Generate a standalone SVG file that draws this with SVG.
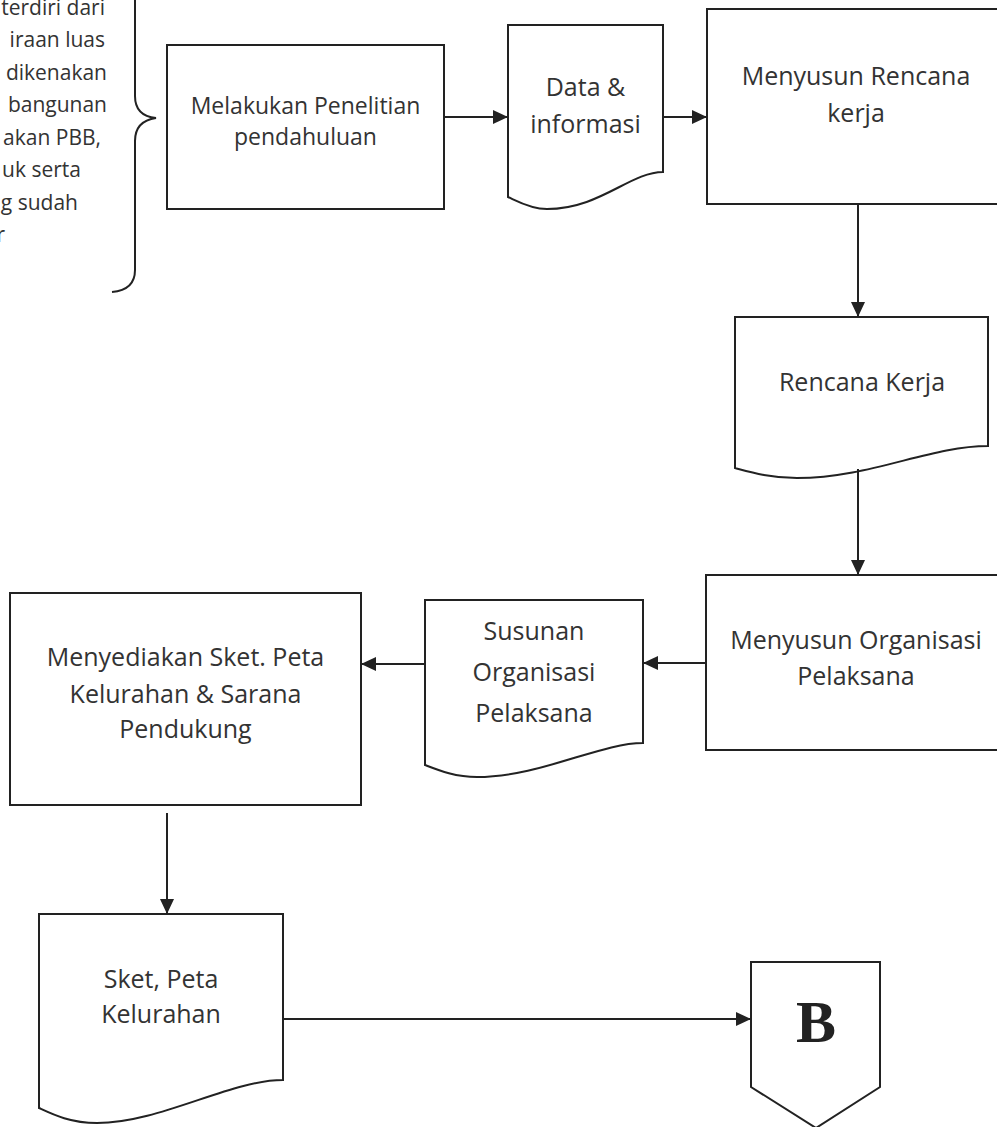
<svg xmlns="http://www.w3.org/2000/svg" width="997" height="1127" viewBox="0 0 997 1127">
  <style>
    .shape { fill: #fff; stroke: #222; stroke-width: 2; }
    .edge { fill: none; stroke: #222; stroke-width: 2; }
    .lbl { font-family: "Open Sans", "DejaVu Sans", sans-serif; font-size: 25px; fill: #333; text-anchor: middle; }
    .note { font-family: "Open Sans", "DejaVu Sans", sans-serif; font-size: 21px; fill: #333; text-anchor: end; }
    .conn { font-family: "Liberation Serif", serif; font-weight: bold; font-size: 60px; fill: #222; text-anchor: middle; }
  </style>
  <defs>
    <marker id="arrow" markerUnits="userSpaceOnUse" markerWidth="16" markerHeight="14" refX="15" refY="7" orient="auto">
      <path d="M0,0 L15,7 L0,14 Z" fill="#222"/>
    </marker>
  </defs>
  <rect width="997" height="1127" fill="#fff"/>

  <!-- side note with brace -->
  <g id="note">
    <text class="note" x="105" y="15">terdiri dari</text>
    <text class="note" x="105" y="47">iraan luas</text>
    <text class="note" x="107" y="80">dikenakan</text>
    <text class="note" x="107" y="112">bangunan</text>
    <text class="note" x="101" y="145">akan PBB,</text>
    <text class="note" x="81" y="177">uk serta</text>
    <text class="note" x="78" y="210">g sudah</text>
    <text class="note" x="5" y="242">r</text>
    <path class="edge" d="M135,-5 L135,96 Q135,116 156,118 Q135,121 135,141 L135,270 Q135,290 112,292"/>
  </g>

  <g id="penelitian">
    <rect class="shape" x="167" y="45" width="277" height="164"/>
    <text class="lbl" style="font-size:23px" x="305.5" y="114">Melakukan Penelitian</text>
    <text class="lbl" style="font-size:23px" x="305.5" y="145">pendahuluan</text>
  </g>

  <g id="data-informasi">
    <path class="shape" d="M508,25 H663 V172 C630,172 600,209 547,209 C530,209 515,200 508,197 Z"/>
    <text class="lbl" x="585.5" y="96">Data &amp;</text>
    <text class="lbl" x="585.5" y="133">informasi</text>
  </g>

  <g id="rencana-kerja-proc">
    <rect class="shape" x="707" y="9" width="300" height="195"/>
    <text class="lbl" x="856" y="85">Menyusun Rencana</text>
    <text class="lbl" x="856" y="122">kerja</text>
  </g>

  <g id="rencana-kerja-doc">
    <path class="shape" d="M735,317 H988 V446 C930,446 870,478 797,478 C770,478 750,472 735,468 Z"/>
    <text class="lbl" x="862" y="391">Rencana Kerja</text>
  </g>

  <g id="organisasi-proc">
    <rect class="shape" x="706" y="575" width="300" height="175"/>
    <text class="lbl" x="856" y="649">Menyusun Organisasi</text>
    <text class="lbl" x="856" y="685">Pelaksana</text>
  </g>

  <g id="organisasi-doc">
    <path class="shape" d="M425,600 H643 V743 C600,743 540,777 477,777 C455,777 438,770 425,765 Z"/>
    <text class="lbl" x="534" y="640">Susunan</text>
    <text class="lbl" x="534" y="681">Organisasi</text>
    <text class="lbl" x="534" y="722">Pelaksana</text>
  </g>

  <g id="sket-proc">
    <rect class="shape" x="10" y="593" width="351" height="212"/>
    <text class="lbl" x="185.5" y="666">Menyediakan Sket. Peta</text>
    <text class="lbl" x="185.5" y="703">Kelurahan &amp; Sarana</text>
    <text class="lbl" x="185.5" y="738">Pendukung</text>
  </g>

  <g id="sket-doc">
    <path class="shape" d="M39,914 H283 V1080 C230,1080 160,1123 97,1123 C70,1123 52,1114 39,1108 Z"/>
    <text class="lbl" x="161" y="988">Sket, Peta</text>
    <text class="lbl" x="161" y="1023">Kelurahan</text>
  </g>

  <g id="connector-b">
    <path class="shape" d="M751,962 H880 V1087 L816,1128 L751,1087 Z"/>
    <text class="conn" x="816" y="1042">B</text>
  </g>

  <g id="connectors">
    <line class="edge" x1="444" y1="117" x2="508" y2="117" marker-end="url(#arrow)"/>
    <line class="edge" x1="663" y1="117" x2="707" y2="117" marker-end="url(#arrow)"/>
    <line class="edge" x1="858" y1="204" x2="858" y2="317" marker-end="url(#arrow)"/>
    <line class="edge" x1="858" y1="469" x2="858" y2="575" marker-end="url(#arrow)"/>
    <line class="edge" x1="706" y1="663" x2="643" y2="663" marker-end="url(#arrow)"/>
    <line class="edge" x1="425" y1="664" x2="361" y2="664" marker-end="url(#arrow)"/>
    <line class="edge" x1="167" y1="813" x2="167" y2="914" marker-end="url(#arrow)"/>
    <line class="edge" x1="283" y1="1019" x2="751" y2="1019" marker-end="url(#arrow)"/>
  </g>
</svg>
